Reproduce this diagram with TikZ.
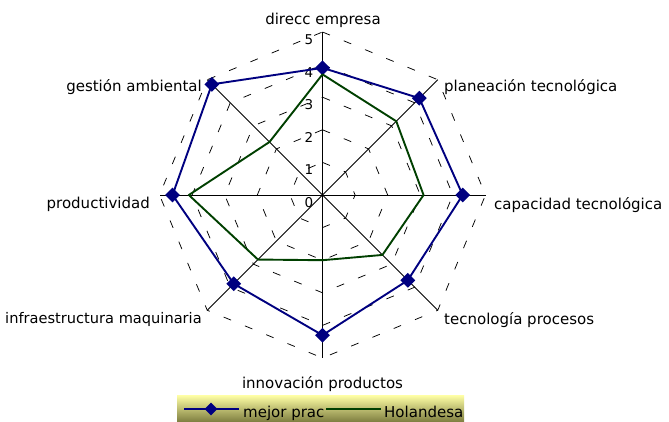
\documentclass[tikz,border=0pt]{standalone}
\usepackage{fontspec}
\setmainfont{DejaVu Sans}
\usetikzlibrary{shapes.geometric}
\definecolor{azulmejor}{RGB}{0,0,128}
\definecolor{verdehol}{RGB}{0,64,0}
\definecolor{amarilloley}{RGB}{255,255,165}
\definecolor{olivaley}{RGB}{70,70,20}
\newcommand{\unidad}{32.6}

\begin{document}
\begin{tikzpicture}[x=1pt,y=1pt,
		rejilla/.style={black,line width=0.75pt,dash pattern=on 8pt off 15pt},
		eje/.style={black,line width=0.85pt},
		serie/.style={line width=1.9pt,line join=round},
		marca/.style={diamond,fill=azulmejor,inner sep=0pt,minimum size=15pt},
		etiqueta/.style={font=\fontsize{15}{18}\selectfont,inner sep=0pt},
		numero/.style={font=\fontsize{13.5}{16}\selectfont,inner sep=0pt,anchor=east}]
		\useasboundingbox (0,0) rectangle (669,-422);
		\clip (0,0) rectangle (669,-422);
		\fill [white] (0,0) rectangle (669,-422);
		\coordinate (centro) at (322.5,-195);
		\begin{scope}[shift={(centro)}]
		% rejilla punteada
		\foreach \n in {1,...,5}
			\draw [rejilla] (90:\n*\unidad) -- (45:\n*\unidad) -- (0:\n*\unidad) -- (-45:\n*\unidad) -- (-90:\n*\unidad) -- (-135:\n*\unidad) -- (180:\n*\unidad) -- (135:\n*\unidad) -- cycle;
		% ejes
		\foreach \a/\nom in {90/e1,45/e2,0/e3,-45/e4,-90/e5,-135/e6,180/e7,135/e8}
			\coordinate (\nom) at (\a:5*\unidad);
		\foreach \nom in {e1,e2,e3,e4,e5,e6,e7,e8}
			\draw [eje] (0,0) -- (\nom);
		\foreach \n in {0,...,5}
			\node [numero] (n\n) at (-9,\n*\unidad-7.5) {\n};
		% mejor prac
		\foreach \a/\v [count=\i] in {90/3.9,45/4.2,0/4.3,-45/3.7,-90/4.3,-135/3.85,180/4.6,135/4.8}
			\coordinate (m\i) at (\a:\v*\unidad);
		\draw [serie,azulmejor] (m1) -- (m2) -- (m3) -- (m4) -- (m5) -- (m6) -- (m7) -- (m8) -- cycle;
		\foreach \i in {1,...,8}
			\node [marca] (d\i) at (m\i) {};
		% Holandesa
		\foreach \a/\v [count=\i] in {90/3.7,45/3.2,0/3.1,-45/2.6,-90/2.0,-135/2.8,180/4.1,135/2.3}
			\coordinate (h\i) at (\a:\v*\unidad);
		\draw [serie,verdehol] (h1) -- (h2) -- (h3) -- (h4) -- (h5) -- (h6) -- (h7) -- (h8) -- cycle;
		\end{scope}
		% categorias
		\node [etiqueta,anchor=base] (direcc) at (323,-25) {direcc empresa};
		\node [etiqueta,anchor=base west] (planea) at (444,-91.7) {planeación tecnológica};
		\node [etiqueta,anchor=base west] (capac) at (494,-209) {capacidad tecnológica};
		\node [etiqueta,anchor=base west] (tecpro) at (444,-324) {tecnología procesos};
		\node [etiqueta,anchor=base] (innov) at (322.5,-388) {innovación productos};
		\node [etiqueta,anchor=base west,font=\fontsize{14.6}{18}\selectfont] (infra) at (5,-323) {infraestructura maquinaria};
		\node [etiqueta,anchor=base east] (produc) at (150,-208) {productividad};
		\node [etiqueta,anchor=base east] (gestion) at (202,-91.7) {gestión ambiental};
		% leyenda
		\node [top color=amarilloley,bottom color=olivaley,inner sep=0pt,minimum width=287pt,minimum height=38pt,anchor=north west] (leyenda) at (177,-395) {};
		\coordinate (lm1) at (184,-409);
		\coordinate (lm2) at (239,-409);
		\draw [azulmejor,line width=2pt] (lm1) -- (lm2);
		\node [marca,minimum size=13pt] (lmd) at (211,-409) {};
		\node [etiqueta,anchor=base west] (lmt) at (243,-417.5) {mejor prac};
		\coordinate (lh1) at (326,-409);
		\coordinate (lh2) at (381,-409);
		\draw [verdehol,line width=2pt] (lh1) -- (lh2);
		\node [etiqueta,anchor=base west] (lht) at (384,-417.5) {Holandesa};
		\end{tikzpicture}
\end{document}
